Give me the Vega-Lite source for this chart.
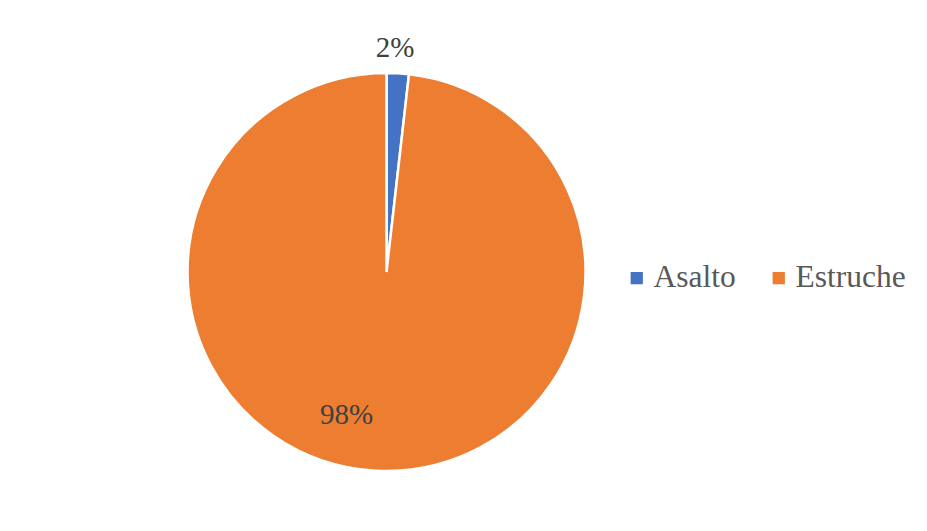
{
  "$schema": "https://vega.github.io/schema/vega-lite/v6.json",
  "width": 773,
  "height": 544,
  "autosize": "none",
  "padding": {"left": 0, "top": 0, "right": 154, "bottom": 0},
  "background": "white",
  "config": {
    "view": {"stroke": null},
    "font": "serif"
  },
  "data": {
    "values": [
      {"tipo": "Asalto", "valor": 1.8, "etiqueta": "2%"},
      {"tipo": "Estruche", "valor": 98.2, "etiqueta": "98%"}
    ]
  },
  "encoding": {
    "theta": {"field": "valor", "type": "quantitative", "stack": true},
    "order": {"field": "tipo", "type": "nominal"}
  },
  "layer": [
    {
      "mark": {"type": "arc", "outerRadius": 199, "stroke": "white", "strokeWidth": 2.5},
      "encoding": {
        "color": {
          "field": "tipo",
          "type": "nominal",
          "scale": {"domain": ["Asalto", "Estruche"], "range": ["#4472C4", "#ED7D31"]},
          "legend": {
            "title": null,
            "orient": "none",
            "legendX": 621,
            "legendY": 262,
            "direction": "horizontal",
            "symbolType": "square",
            "symbolSize": 150,
            "symbolStrokeWidth": 0,
            "labelFont": "serif",
            "labelFontSize": 31.5,
            "labelColor": "#595959",
            "labelOffset": 1,
            "columnPadding": 27,
            "labelLimit": 300
          }
        }
      }
    },
    {
      "transform": [{"filter": "datum.tipo === 'Asalto'"}],
      "mark": {"type": "text", "radius": 224, "dx": -4, "fontSize": 29, "font": "serif", "color": "#404040", "baseline": "middle", "align": "center"},
      "encoding": {"text": {"field": "etiqueta"}}
    },
    {
      "transform": [{"filter": "datum.tipo === 'Estruche'"}],
      "mark": {"type": "text", "radius": 143, "dx": -48, "fontSize": 29, "font": "serif", "color": "#404040", "baseline": "middle", "align": "center"},
      "encoding": {"text": {"field": "etiqueta"}}
    }
  ]
}
